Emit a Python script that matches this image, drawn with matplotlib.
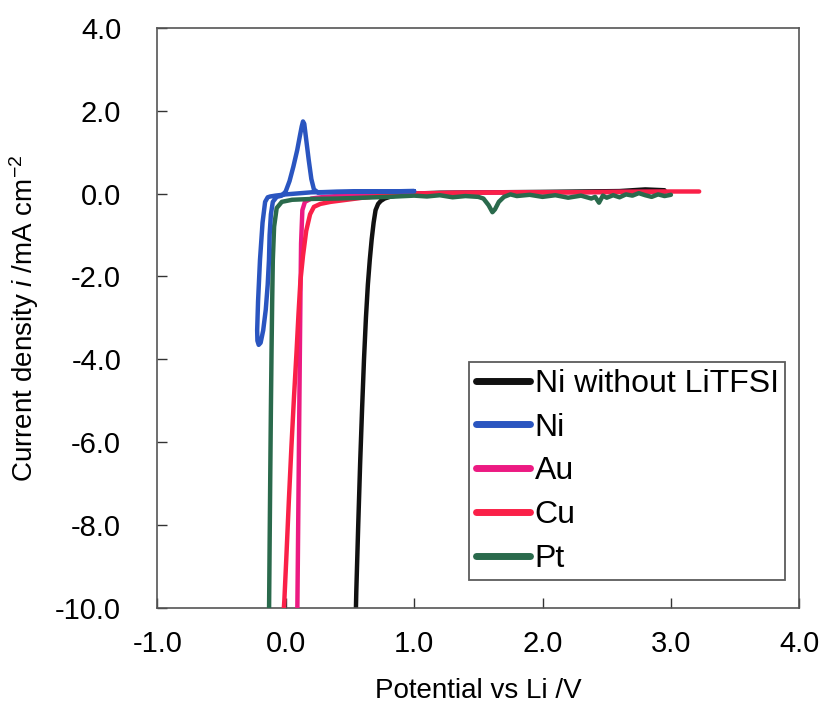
import matplotlib
matplotlib.use("Agg")
import matplotlib.pyplot as plt

plt.rcParams['font.family'] = ['Liberation Sans', 'DejaVu Sans']
plt.rcParams['mathtext.fontset'] = 'custom'
plt.rcParams['mathtext.rm'] = 'Liberation Sans'
plt.rcParams['mathtext.it'] = 'Liberation Sans:italic'

# linear sweep voltammograms, potential (V vs Li) and current density (mA cm-2)
ni_bare_v = [2.95, 2.8, 2.6, 2.3, 2.0, 1.6, 1.2, 1.0, 0.9, 0.82, 0.77, 0.74, 0.72,
             0.70, 0.685, 0.67, 0.655, 0.64, 0.625, 0.61, 0.595, 0.58, 0.565, 0.55, 0.545]
ni_bare_i = [0.08, 0.1, 0.06, 0.05, 0.04, 0.03, 0.02, 0.0, -0.03, -0.07, -0.12, -0.18, -0.25,
             -0.4, -0.7, -1.1, -1.6, -2.2, -3.0, -4.0, -5.2, -6.5, -8.0, -9.6, -10.3]

ni_v = [1.0, 0.7, 0.4, 0.2, 0.0, -0.08, -0.12, -0.14, -0.16, -0.18, -0.20, -0.215, -0.222,
        -0.22, -0.21, -0.195, -0.175, -0.155, -0.14, -0.13, -0.125, -0.115, -0.1, -0.07,
        -0.03, 0.0, 0.03, 0.06, 0.09, 0.11, 0.125, 0.135, 0.145, 0.16, 0.18, 0.2, 0.22,
        0.25, 0.4, 0.7, 1.0]
ni_i = [0.06, 0.05, 0.04, 0.03, -0.02, -0.05, -0.07, -0.09, -0.2, -0.7, -1.6, -2.6, -3.3,
        -3.55, -3.65, -3.6, -3.3, -2.8, -2.2, -1.6, -1.0, -0.5, -0.2, -0.08, -0.05, 0.05,
        0.3, 0.65, 1.05, 1.38, 1.62, 1.74, 1.68, 1.3, 0.8, 0.35, 0.1, 0.03, 0.04, 0.05, 0.06]

au_v = [2.95, 2.6, 2.2, 1.8, 1.4, 1.0, 0.7, 0.45, 0.3, 0.2, 0.15, 0.13, 0.12, 0.115,
        0.11, 0.105, 0.1, 0.095, 0.09]
au_i = [0.04, 0.04, 0.03, 0.03, 0.02, 0.0, -0.02, -0.05, -0.08, -0.12, -0.2, -0.4, -1.2,
        -2.5, -4.0, -5.6, -7.2, -8.8, -10.3]

cu_v = [3.22, 3.0, 2.6, 2.2, 1.8, 1.4, 1.0, 0.8, 0.6, 0.45, 0.35, 0.27, 0.22, 0.19,
        0.16, 0.135, 0.115, 0.1, 0.085, 0.065, 0.045, 0.025, 0.005, -0.01, -0.02]
cu_i = [0.05, 0.05, 0.04, 0.03, 0.03, 0.02, 0.0, -0.04, -0.1, -0.16, -0.2, -0.25, -0.32,
        -0.5, -0.9, -1.5, -2.1, -2.9, -3.8, -4.9, -6.1, -7.4, -8.8, -9.8, -10.3]

pt_v = [3.0, 2.95, 2.9, 2.85, 2.8, 2.75, 2.7, 2.65, 2.6, 2.55, 2.5, 2.47, 2.44, 2.41,
        2.38, 2.3, 2.2, 2.1, 2.0, 1.9, 1.8, 1.75, 1.7, 1.66, 1.63, 1.61, 1.58, 1.54,
        1.5, 1.4, 1.3, 1.2, 1.1, 1.0, 0.8, 0.6, 0.4, 0.2, 0.05, -0.03, -0.07, -0.09,
        -0.1, -0.105, -0.11, -0.115, -0.12, -0.125, -0.13]
pt_i = [-0.03, -0.06, -0.02, -0.08, -0.04, 0.01, -0.05, -0.02, -0.09, -0.04, -0.1, -0.05,
        -0.22, -0.08, -0.12, -0.05, -0.1, -0.04, -0.08, -0.03, -0.06, -0.02, -0.08, -0.2,
        -0.38, -0.45, -0.28, -0.12, -0.08, -0.06, -0.09, -0.04, -0.07, -0.05, -0.08, -0.1,
        -0.12, -0.13, -0.15, -0.2, -0.35, -0.8, -1.6, -2.6, -3.8, -5.2, -6.8, -8.5, -10.3]

labels = ['Ni without LiTFSI', 'Ni', 'Au', 'Cu', 'Pt']
colors = ['#111111', '#2a55c0', '#ec1a82', '#fa2048', '#2a6a4c']

fig = plt.figure(figsize=(8.19, 7.12), dpi=100)
ax = fig.add_axes([0.192, 0.146, 0.784, 0.815])

curves = [(ni_bare_v, ni_bare_i), (ni_v, ni_i), (au_v, au_i), (cu_v, cu_i), (pt_v, pt_i)]
zorders = [2, 6, 3, 4, 5]
for (v, i), lab, col, z in zip(curves, labels, colors, zorders):
    ax.plot(v, i, color=col, lw=3.2, label=lab, zorder=z,
            solid_capstyle='round', solid_joinstyle='round')

ax.set_xlim(-1.0, 4.0)
ax.set_ylim(-10.0, 4.0)
ax.set_xticks([-1.0, 0.0, 1.0, 2.0, 3.0, 4.0])
ax.set_yticks([-10.0, -8.0, -6.0, -4.0, -2.0, 0.0, 2.0, 4.0])
ax.set_xticklabels(['-1.0', '0.0', '1.0', '2.0', '3.0', '4.0'])
ax.set_yticklabels(['-10.0', '-8.0', '-6.0', '-4.0', '-2.0', '0.0', '2.0', '4.0'])
ax.tick_params(direction='in', length=7, width=1, labelsize=21, color='#333333')
ax.tick_params(axis='y', pad=26)
ax.tick_params(axis='x', pad=16)
for s in ax.spines.values():
    s.set_color('#555555')
    s.set_linewidth(1.2)

ax.set_xlabel('Potential vs Li /V', fontsize=20, labelpad=14)
ax.set_ylabel('Current density $i$ /mA cm$^{-2}$', fontsize=20, labelpad=10)

leg = ax.legend(loc='lower right', bbox_to_anchor=(0.978, 0.048), borderaxespad=0,
                fontsize=23, frameon=True, fancybox=False, edgecolor='#333333',
                handlelength=1.7, handletextpad=0.15, labelspacing=0.43,
                borderpad=0.2)
leg.get_frame().set_linewidth(1.3)
for h in leg.get_lines():
    h.set_linewidth(5)

fig.savefig('out.png', dpi=100)
